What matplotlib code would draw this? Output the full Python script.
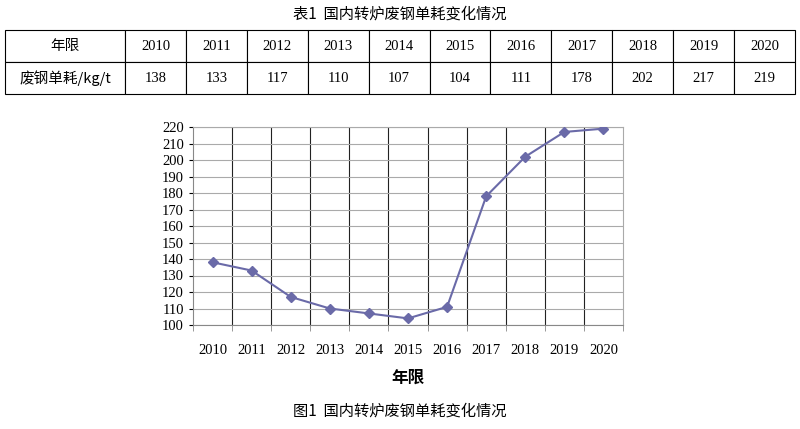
import matplotlib.pyplot as plt
import numpy as np

plt.rcParams['font.family'] = ['Liberation Serif', 'Noto Sans CJK SC']

years = ['2010', '2011', '2012', '2013', '2014', '2015', '2016', '2017', '2018', '2019', '2020']
values = [138, 133, 117, 110, 107, 104, 111, 178, 202, 217, 219]
row_labels = ['年限', '废钢单耗/kg/t']

fig = plt.figure(figsize=(8, 4.29), dpi=100)
W, H = 800, 429

def fx(px):
    return px / W

def fy(py):
    return 1 - py / H

fig.text(0.5, fy(14), '表1  国内转炉废钢单耗变化情况', ha='center', va='center', fontsize=11,
         family=['Noto Sans CJK SC'])

# table
tax = fig.add_axes([fx(5), fy(94), fx(790), fy(30) - fy(94)])
tax.axis('off')
rows = [[row_labels[0]] + years, [row_labels[1]] + [str(v) for v in values]]
tbl = tax.table(cellText=rows, cellLoc='center', bbox=[0, 0, 1, 1],
                colWidths=[120 / 790] + [670 / 790 / 11] * 11)
tbl.auto_set_font_size(False)
for (r, c), cell in tbl.get_celld().items():
    cell.set_linewidth(0.8)
    cell.get_text().set_fontsize(10.5)
    if c == 0:
        cell.get_text().set_family(['Noto Sans CJK SC'])

# chart
ax = fig.add_axes([fx(193), fy(325), fx(623) - fx(193), fy(127) - fy(325)])
x = np.arange(len(years))
ax.plot(x, values, color='#6a6aa8', lw=1.5, marker='D', ms=5, zorder=3)
ax.set_xlim(-0.5, len(years) - 0.5)
ax.set_ylim(100, 220)
ax.set_yticks(np.arange(100, 221, 10))
ax.set_xticks(x)
ax.set_xticklabels(years)
ax.set_xticks(np.arange(-0.5, len(years)), minor=True)
ax.tick_params(axis='x', which='major', length=0, pad=14, labelsize=10.5)
ax.tick_params(axis='x', which='minor', length=4, color='#888888')
ax.tick_params(axis='y', length=3, labelsize=10.5)
for xv in np.arange(0.5, len(years) - 0.5):
    ax.axvline(xv, color='#222222', lw=0.8, zorder=1)
ax.grid(axis='y', color='#aaaaaa', lw=0.8, zorder=0)
for s in ['top', 'right']:
    ax.spines[s].set_color('#aaaaaa')
for s in ['left', 'bottom']:
    ax.spines[s].set_color('#888888')

fig.text(fx(408), fy(378), '年限', ha='center', va='center', fontsize=12, weight='bold',
         family=['Noto Sans CJK SC'])
fig.text(0.5, fy(411), '图1  国内转炉废钢单耗变化情况', ha='center', va='center', fontsize=11,
         family=['Noto Sans CJK SC'])

fig.savefig('out.png', dpi=100)
